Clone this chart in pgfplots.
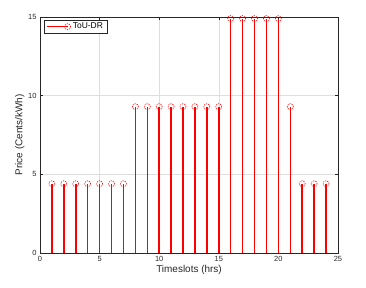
\documentclass[border=0pt]{standalone}
\usepackage{fontspec}
\setmainfont{Liberation Sans}
\usepackage{pgfplots}
\pgfplotsset{compat=1.18}
\definecolor{axgray}{rgb}{0.15,0.15,0.15}
\definecolor{gridgray}{rgb}{0.87,0.87,0.87}
\definecolor{stemred}{rgb}{1,0,0}
\begin{document}
\begin{tikzpicture}
\path (-40bp,-35bp) rectangle (326bp,253bp);
\begin{axis}[
  at={(0,0)}, anchor=south west,
  scale only axis, width=298bp, height=236bp,
  xmin=0, xmax=25, ymin=0, ymax=15,
  xtick={0,5,...,25}, ytick={0,5,10,15},
  grid=major, major grid style={gridgray, line width=0.4pt},
  axis line style={axgray, line width=0.5pt},
  tick style={axgray, line width=0.5pt},
  tick align=inside, major tick length=3bp,
  tick label style={font=\fontsize{7.5}{9}\selectfont, text=axgray},
  label style={font=\fontsize{10}{12}\selectfont, text=axgray},
  /pgf/number format/assume math mode=true,
  xlabel={Timeslots (hrs)}, ylabel={Price (Cents/kWh)},
  xlabel style={yshift=3bp}, ylabel style={yshift=-3bp},
  legend style={at={(0.012,0.988)}, anchor=north west, font=\fontsize{8.5}{10}\selectfont,
    draw=axgray, line width=0.5pt, inner xsep=2pt, inner ysep=1pt, row sep=0pt},
  legend cell align=left,
]
\addplot[ycomb, draw=stemred, line width=1.5pt, mark=o, mark size=3bp,
  mark options={draw=stemred, fill=none, solid, line width=0.6pt, dash pattern=on 1.2pt off 1pt},
  legend image code/.code={
    \draw[stemred, line width=1.5pt] (0bp,0bp) -- (21bp,0bp);
    \draw[stemred, line width=0.6pt, dash pattern=on 1.2pt off 1pt] (21bp,0bp) circle (3bp);
  }]
coordinates {
(1,4.4)(2,4.4)(3,4.4)(4,4.4)(5,4.4)(6,4.4)(7,4.4)
(8,9.3)(9,9.3)(10,9.3)(11,9.3)(12,9.3)(13,9.3)(14,9.3)(15,9.3)
(16,14.9)(17,14.9)(18,14.9)(19,14.9)(20,14.9)
(21,9.3)(22,4.4)(23,4.4)(24,4.4)
};
\addlegendentry{ToU-DR}
\end{axis}
\end{tikzpicture}
\end{document}
